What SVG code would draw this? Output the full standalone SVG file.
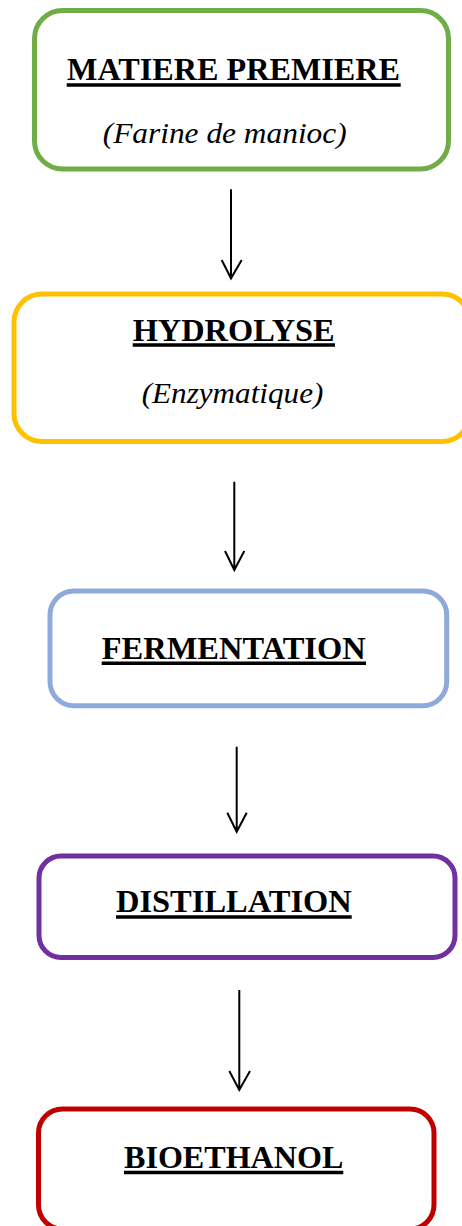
<svg xmlns="http://www.w3.org/2000/svg" width="462" height="1226" viewBox="0 0 462 1226">
<style>
.box{fill:#fff;stroke-width:5}
.t{font-family:"Liberation Serif","Times New Roman",serif;font-weight:bold;font-size:32px;fill:#000}
.s{font-family:"Liberation Serif","Times New Roman",serif;font-style:italic;font-size:29px;fill:#000}
.u{stroke:#000;stroke-width:3.4}
.c{stroke:#000;stroke-width:2;fill:none}
</style>
<rect width="462" height="1226" fill="#fff"/>
<g id="node-matiere">
<rect class="box" x="34.5" y="10.5" width="414" height="158.5" rx="28" stroke="#70AD47"/>
<text class="t" x="67" y="80" textLength="333" lengthAdjust="spacingAndGlyphs">MATIERE PREMIERE</text>
<line class="u" x1="66.7" y1="85" x2="400.7" y2="85"/>
<text class="s" x="102.7" y="142.7" textLength="244" lengthAdjust="spacingAndGlyphs">(Farine de manioc)</text>
</g>
<g id="node-hydrolyse">
<rect class="box" x="14" y="294" width="456" height="147.5" rx="28" stroke="#FFC000"/>
<text class="t" x="132.7" y="340.7" textLength="202" lengthAdjust="spacingAndGlyphs">HYDROLYSE</text>
<line class="u" x1="132.7" y1="345" x2="335" y2="345"/>
<text class="s" x="141.7" y="403.3" textLength="181.7" lengthAdjust="spacingAndGlyphs">(Enzymatique)</text>
</g>
<g id="node-fermentation">
<rect class="box" x="50" y="591" width="396.7" height="114.7" rx="24" stroke="#8EAADB"/>
<text class="t" x="101.7" y="659" textLength="264" lengthAdjust="spacingAndGlyphs">FERMENTATION</text>
<line class="u" x1="101.7" y1="663.3" x2="366" y2="663.3"/>
</g>
<g id="node-distillation">
<rect class="box" x="39" y="856" width="416" height="101.5" rx="22" stroke="#7030A0"/>
<text class="t" x="116" y="911.7" textLength="235.7" lengthAdjust="spacingAndGlyphs">DISTILLATION</text>
<line class="u" x1="116" y1="917" x2="351.7" y2="917"/>
</g>
<g id="node-bioethanol">
<rect class="box" x="38.5" y="1109" width="395.5" height="120" rx="24" stroke="#C00000"/>
<text class="t" x="124" y="1168.3" textLength="219.3" lengthAdjust="spacingAndGlyphs">BIOETHANOL</text>
<line class="u" x1="124" y1="1172.5" x2="343.3" y2="1172.5"/>
</g>
<g id="connectors">
<path class="c" d="M231 189.3V278.3M221.7 260L231 278.3L241.7 260"/>
<path class="c" d="M234.3 481.7V570M225 551L234.3 570L244.3 551"/>
<path class="c" d="M236.7 746.7V831.7M227.3 812.7L236.7 831.7L246.7 812.7"/>
<path class="c" d="M239.3 990V1090M229.3 1071L239.3 1090L250 1071"/>
</g>
</svg>
